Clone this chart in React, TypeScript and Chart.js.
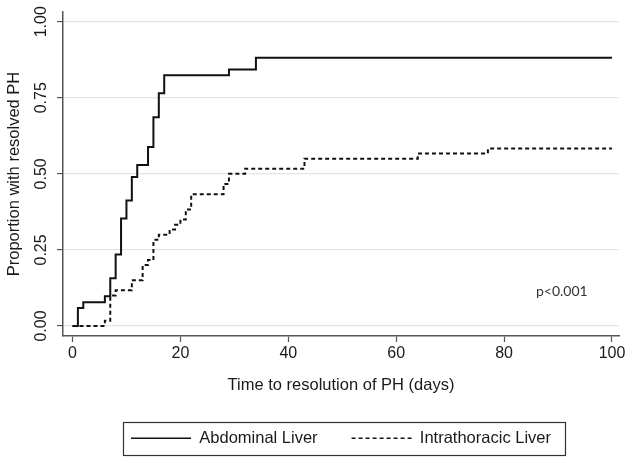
import React, { useEffect, useRef } from 'react';
import { Chart, registerables } from 'chart.js';

Chart.register(...registerables);

// ---- data ----
const abdominalDays = [0, 1, 2, 6, 7, 8, 9, 10, 11, 12, 14, 15, 16, 17, 29, 34, 100];
const abdominalProp = [0, 0.059, 0.078, 0.098, 0.157, 0.235, 0.353, 0.412, 0.49, 0.529, 0.588, 0.686, 0.765, 0.824, 0.843, 0.882, 0.882];
const thoracicDays = [0, 6, 7, 8, 11, 13, 14, 15, 16, 18, 19, 20, 21, 22, 28, 29, 32, 43, 64, 77, 100];
const thoracicProp = [0, 0.017, 0.1, 0.117, 0.15, 0.2, 0.217, 0.283, 0.3, 0.317, 0.333, 0.35, 0.383, 0.433, 0.467, 0.5, 0.517, 0.55, 0.567, 0.583, 0.583];
const seriesNames = ['Abdominal Liver', 'Intrathoracic Liver'];
const xTicks = [0, 20, 40, 60, 80, 100];
const yTicks = [0, 0.25, 0.5, 0.75, 1];
const xTitle = 'Time to resolution of PH (days)';
const yTitle = 'Proportion with resolved PH';
const pValueText = 'p<0.001';
const pValueAt = [90.7, 0.112];

const FONT = "'Liberation Sans', Arial, Helvetica, sans-serif";
const TEXT = '#1a1a1a';
const AXIS = '#555555';
const GRID = '#e4e4e4';

const extras = {
  id: 'extras',
  afterDraw(chart: any) {
    const ctx = chart.ctx;
    ctx.save();
    // p-value annotation
    const px = chart.scales.x.getPixelForValue(pValueAt[0]);
    const py = chart.scales.y.getPixelForValue(pValueAt[1]);
    ctx.font = `14px Lato, ${FONT}`;
    ctx.fillStyle = '#333';
    ctx.textAlign = 'center';
    ctx.textBaseline = 'middle';
    ctx.fillText(pValueText, px, py);
    // legend border
    const hb = chart.legend && chart.legend.legendHitBoxes;
    if (hb && hb.length) {
      const first = hb[0];
      const last = hb[hb.length - 1];
      const left = first.left - 8;
      const right = last.left + last.width + 14;
      const top = first.top - 8;
      const h = first.height + 16;
      ctx.strokeStyle = '#333';
      ctx.lineWidth = 1.2;
      ctx.setLineDash([]);
      ctx.strokeRect(Math.round(left) + 0.5, Math.round(top) + 0.5, Math.round(right - left), Math.round(h));
    }
    ctx.restore();
  },
};

export default function App() {
  const ref = useRef<HTMLCanvasElement | null>(null);

  useEffect(() => {
    document.body.style.margin = '0';
    const canvas = ref.current;
    if (!canvas) return;
    const baseGenerate = (Chart as any).defaults.plugins.legend.labels.generateLabels;
    const chart = new Chart(canvas, {
      type: 'line',
      data: {
        datasets: [
          {
            label: seriesNames[0],
            data: abdominalDays.map((d, i) => ({ x: d, y: abdominalProp[i] })),
            borderColor: '#111111',
            borderWidth: 2,
            stepped: 'before',
            pointRadius: 0,
            fill: false,
          },
          {
            label: seriesNames[1],
            data: thoracicDays.map((d, i) => ({ x: d, y: thoracicProp[i] })),
            borderColor: '#111111',
            borderWidth: 2,
            borderDash: [4, 3],
            stepped: 'before',
            pointRadius: 0,
            fill: false,
          },
        ],
      },
      options: {
        responsive: false,
        animation: false,
        devicePixelRatio: 1,
        events: [],
        layout: { padding: { top: 12, right: 13, bottom: 6.5, left: 0 } },
        plugins: {
          tooltip: { enabled: false },
          legend: {
            position: 'bottom',
            fullSize: false,
            labels: {
              usePointStyle: true,
              pointStyle: 'line',
              pointStyleWidth: 60,
              padding: 34,
              color: TEXT,
              font: { family: FONT, size: 16.5 },
              generateLabels: (c: any) =>
                baseGenerate(c).map((item: any) => {
                  const ds = c.data.datasets[item.datasetIndex];
                  return { ...item, lineDash: ds.borderDash || [], lineWidth: 1.5, strokeStyle: '#111111' };
                }),
            },
          },
        },
        scales: {
          x: {
            type: 'linear',
            min: -1.76,
            max: 101.3,
            afterBuildTicks: (s: any) => {
              s.ticks = xTicks.map((v) => ({ value: v }));
            },
            afterFit: (s: any) => {
              s.height = 60;
            },
            grid: {
              drawOnChartArea: false,
              drawTicks: true,
              tickLength: 6,
              tickColor: AXIS,
              tickWidth: 1.2,
            },
            border: { display: true, color: AXIS, width: 1.5 },
            ticks: {
              padding: 2,
              color: TEXT,
              font: { family: FONT, size: 16 },
              maxRotation: 0,
              minRotation: 0,
            },
            title: {
              display: true,
              text: xTitle,
              color: TEXT,
              font: { family: FONT, size: 16.5 },
              padding: { top: 0, bottom: 1 },
            },
          },
          y: {
            type: 'linear',
            min: -0.033,
            max: 1.032,
            afterBuildTicks: (s: any) => {
              s.ticks = yTicks.map((v) => ({ value: v }));
            },
            afterFit: (s: any) => {
              s.width = 63;
            },
            grid: {
              color: GRID,
              lineWidth: 1.2,
              drawTicks: true,
              tickLength: 6,
              tickColor: AXIS,
              tickWidth: 1.2,
            },
            border: { display: true, color: AXIS, width: 1.5 },
            ticks: {
              padding: 0,
              color: TEXT,
              font: { family: FONT, size: 16 },
              minRotation: 90,
              maxRotation: 90,
              crossAlign: 'center',
              callback: (v: any) => Number(v).toFixed(2),
            },
            title: {
              display: true,
              text: yTitle,
              color: TEXT,
              font: { family: FONT, size: 16.5 },
              padding: { top: 5, bottom: 0 },
            },
          },
        },
      },
      plugins: [extras],
    } as any);
    return () => chart.destroy();
  }, []);

  return (
    <div style={{ width: 632, height: 463, background: '#fff' }}>
      <canvas ref={ref} width={632} height={463} />
    </div>
  );
}
